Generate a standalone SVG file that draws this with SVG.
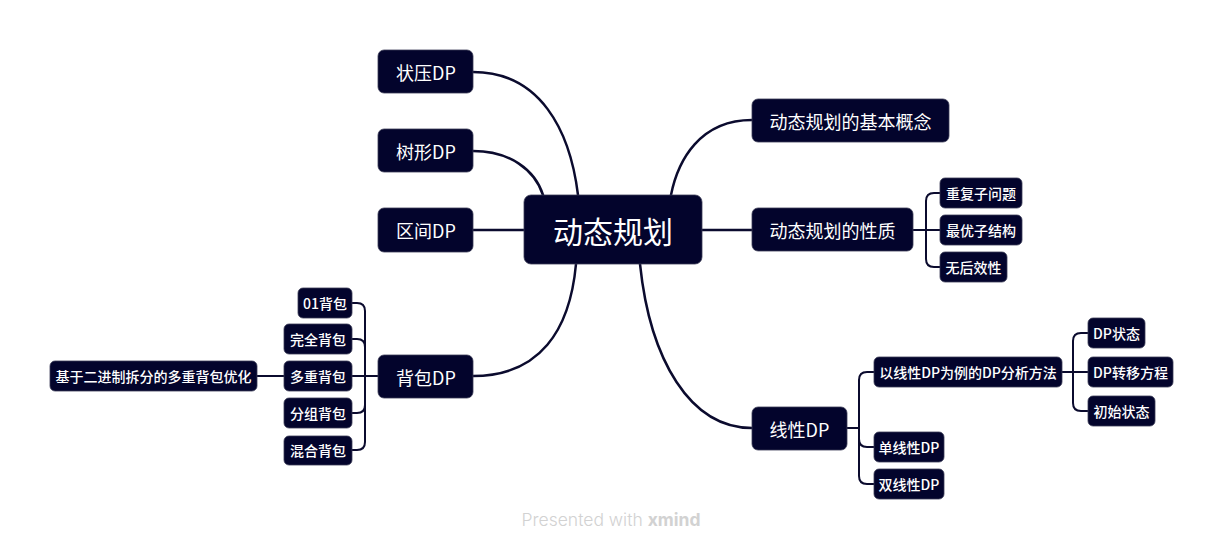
<svg xmlns="http://www.w3.org/2000/svg" width="1224" height="551" viewBox="0 0 1224 551">
<style>
.n{fill:#03042c;stroke:#3a3b55;stroke-width:0.8}
.t{fill:#ffffff;font-family:"Noto Sans CJK SC","Noto Sans",sans-serif;text-anchor:middle;dominant-baseline:central}
.t0{font-size:30px}
.t1{font-size:18px}
.t2{font-size:14px;font-weight:500}
.c{fill:none;stroke:#0b0b2e;stroke-width:2.5;stroke-linecap:round}
.s{fill:none;stroke:#0b0b2e;stroke-width:2;stroke-linecap:round}
</style>
<rect width="1224" height="551" fill="#ffffff"/>
<g id="connectors">
<path class="c" d="M473,72 C540,72 570,130 578,195"/>
<path class="c" d="M473,151 C510,151 535,170 543,195"/>
<path class="c" d="M473,230 H524"/>
<path class="c" d="M473,376 C540,376 570,330 576,264"/>
<path class="c" d="M752,120 C700,120 678,160 671,195"/>
<path class="c" d="M702,230 H752"/>
<path class="c" d="M752,428 C690,428 650,360 640,264"/>
<path class="s" d="M913,230 H940"/>
<path class="s" d="M940,193 H934 Q926,193 926,201 V259 Q926,267 934,267 H940"/>
<path class="s" d="M378,376 H352"/>
<path class="s" d="M352,303 H357 Q365,303 365,311 V442 Q365,450 357,450 H352"/>
<path class="s" d="M352,339 H357 Q365,339 365,347"/>
<path class="s" d="M352,413 H357 Q365,413 365,405"/>
<path class="s" d="M284,376 H257"/>
<path class="s" d="M847,428 H859"/>
<path class="s" d="M874,372 H867 Q859,372 859,380 V476 Q859,484 867,484 H874"/>
<path class="s" d="M874,447 H867 Q859,447 859,439"/>
<path class="s" d="M1062,372 H1088"/>
<path class="s" d="M1088,333 H1081 Q1073,333 1073,341 V403 Q1073,411 1081,411 H1088"/>
</g>
<g id="n-root"><rect class="n" x="524" y="195" width="178" height="69" rx="7"/><text class="t t0" x="613" y="230">动态规划</text></g>
<g id="n-zhuangya"><rect class="n" x="378" y="50" width="95" height="43" rx="6"/><text class="t t1" x="426" y="72">状压DP</text></g>
<g id="n-shuxing"><rect class="n" x="378" y="129" width="95" height="43" rx="6"/><text class="t t1" x="426" y="151">树形DP</text></g>
<g id="n-qujian"><rect class="n" x="378" y="208" width="95" height="44" rx="6"/><text class="t t1" x="426" y="230">区间DP</text></g>
<g id="n-beibao"><rect class="n" x="378" y="355" width="95" height="43" rx="6"/><text class="t t1" x="426" y="377">背包DP</text></g>
<g id="n-01"><rect class="n" x="298" y="288" width="54" height="30" rx="5"/><text class="t t2" x="325" y="303">01背包</text></g>
<g id="n-wanquan"><rect class="n" x="284" y="324" width="68" height="30" rx="5"/><text class="t t2" x="318" y="339">完全背包</text></g>
<g id="n-duochong"><rect class="n" x="284" y="361" width="68" height="30" rx="5"/><text class="t t2" x="318" y="376">多重背包</text></g>
<g id="n-fenzu"><rect class="n" x="284" y="398" width="68" height="30" rx="5"/><text class="t t2" x="318" y="413">分组背包</text></g>
<g id="n-hunhe"><rect class="n" x="284" y="436" width="68" height="29" rx="5"/><text class="t t2" x="318" y="450">混合背包</text></g>
<g id="n-erjinzhi"><rect class="n" x="50" y="361" width="207" height="30" rx="5"/><text class="t t2" x="153.5" y="376">基于二进制拆分的多重背包优化</text></g>
<g id="n-gainian"><rect class="n" x="752" y="99" width="197" height="43" rx="6"/><text class="t t1" x="850.5" y="121">动态规划的基本概念</text></g>
<g id="n-xingzhi"><rect class="n" x="752" y="208" width="161" height="43" rx="6"/><text class="t t1" x="832.5" y="230">动态规划的性质</text></g>
<g id="n-chongfu"><rect class="n" x="940" y="178" width="82" height="30" rx="5"/><text class="t t2" x="981" y="193">重复子问题</text></g>
<g id="n-zuiyou"><rect class="n" x="940" y="215" width="82" height="30" rx="5"/><text class="t t2" x="981" y="230">最优子结构</text></g>
<g id="n-wuhou"><rect class="n" x="940" y="252" width="67" height="30" rx="5"/><text class="t t2" x="973.5" y="267">无后效性</text></g>
<g id="n-xianxing"><rect class="n" x="752" y="407" width="95" height="43" rx="6"/><text class="t t1" x="799.5" y="429">线性DP</text></g>
<g id="n-fenxi"><rect class="n" x="874" y="357" width="188" height="30" rx="5"/><text class="t t2" x="968" y="372">以线性DP为例的DP分析方法</text></g>
<g id="n-dan"><rect class="n" x="874" y="432" width="70" height="30" rx="5"/><text class="t t2" x="909" y="447">单线性DP</text></g>
<g id="n-shuang"><rect class="n" x="874" y="469" width="70" height="30" rx="5"/><text class="t t2" x="909" y="484">双线性DP</text></g>
<g id="n-zhuangtai"><rect class="n" x="1088" y="318" width="57" height="30" rx="5"/><text class="t t2" x="1116.5" y="333">DP状态</text></g>
<g id="n-zhuanyi"><rect class="n" x="1088" y="357" width="85" height="30" rx="5"/><text class="t t2" x="1130.5" y="372">DP转移方程</text></g>
<g id="n-chushi"><rect class="n" x="1088" y="396" width="67" height="30" rx="5"/><text class="t t2" x="1121.5" y="411">初始状态</text></g>
<text x="611" y="526" font-family="Inter,'Noto Sans',sans-serif" font-size="17.5" fill="#d2d2d2" text-anchor="middle"><tspan font-weight="300">Presented with </tspan><tspan font-weight="bold">xmind</tspan></text>
</svg>
